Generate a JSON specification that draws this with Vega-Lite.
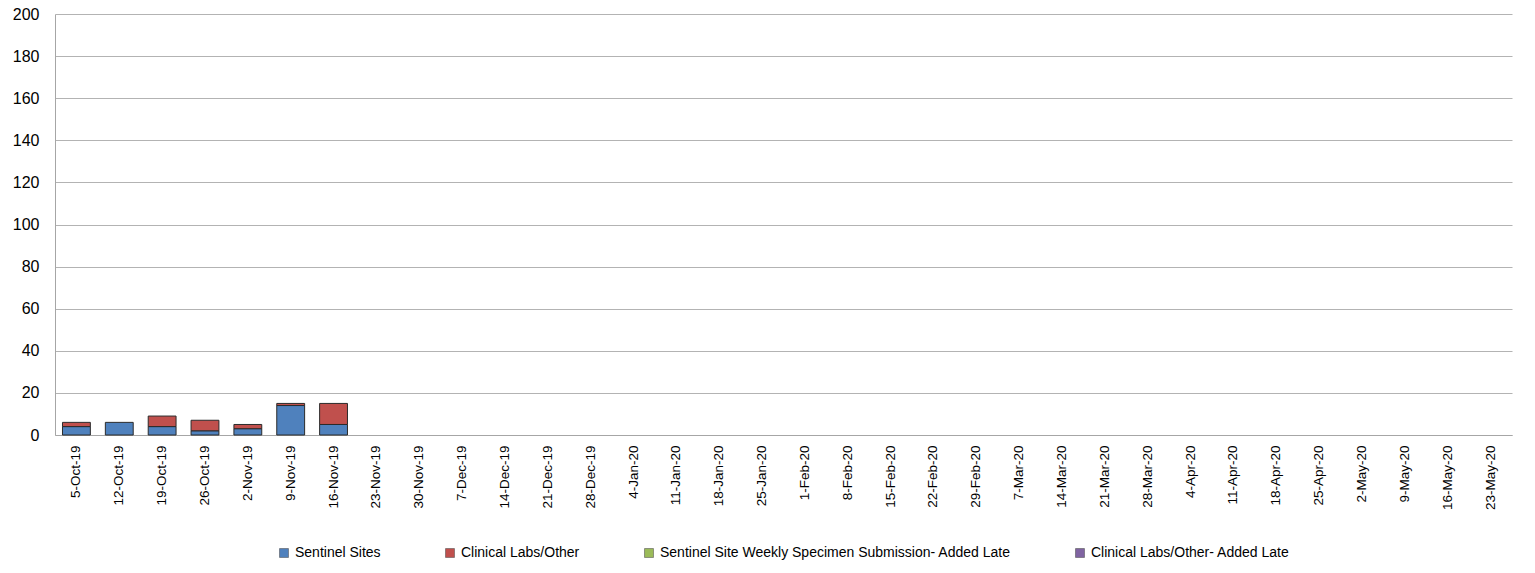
{
  "$schema": "https://vega.github.io/schema/vega-lite/v6.json",
  "width": 1457,
  "height": 421,
  "autosize": {"type": "none"},
  "padding": {"left": 55, "top": 14, "right": 23, "bottom": 138},
  "background": "white",
  "data": {
    "values": [
      {"week": "5-Oct-19", "series": "Sentinel Sites", "k": 1, "count": 4},
      {"week": "5-Oct-19", "series": "Clinical Labs/Other", "k": 2, "count": 2},
      {"week": "12-Oct-19", "series": "Sentinel Sites", "k": 1, "count": 6},
      {"week": "19-Oct-19", "series": "Sentinel Sites", "k": 1, "count": 4},
      {"week": "19-Oct-19", "series": "Clinical Labs/Other", "k": 2, "count": 5},
      {"week": "26-Oct-19", "series": "Sentinel Sites", "k": 1, "count": 2},
      {"week": "26-Oct-19", "series": "Clinical Labs/Other", "k": 2, "count": 5},
      {"week": "2-Nov-19", "series": "Sentinel Sites", "k": 1, "count": 3},
      {"week": "2-Nov-19", "series": "Clinical Labs/Other", "k": 2, "count": 2},
      {"week": "9-Nov-19", "series": "Sentinel Sites", "k": 1, "count": 14},
      {"week": "9-Nov-19", "series": "Clinical Labs/Other", "k": 2, "count": 1},
      {"week": "16-Nov-19", "series": "Sentinel Sites", "k": 1, "count": 5},
      {"week": "16-Nov-19", "series": "Clinical Labs/Other", "k": 2, "count": 10}
    ]
  },
  "mark": {"type": "bar", "stroke": "#2b2b2b", "strokeWidth": 1},
  "encoding": {
    "x": {
      "field": "week",
      "type": "ordinal",
      "sort": null,
      "scale": {
        "domain": ["5-Oct-19","12-Oct-19","19-Oct-19","26-Oct-19","2-Nov-19","9-Nov-19","16-Nov-19","23-Nov-19","30-Nov-19","7-Dec-19","14-Dec-19","21-Dec-19","28-Dec-19","4-Jan-20","11-Jan-20","18-Jan-20","25-Jan-20","1-Feb-20","8-Feb-20","15-Feb-20","22-Feb-20","29-Feb-20","7-Mar-20","14-Mar-20","21-Mar-20","28-Mar-20","4-Apr-20","11-Apr-20","18-Apr-20","25-Apr-20","2-May-20","9-May-20","16-May-20","23-May-20"],
        "paddingInner": 0.35,
        "paddingOuter": 0.175
      },
      "axis": {
        "title": null,
        "labelAngle": 270,
        "labelFont": "Liberation Sans",
        "labelFontSize": 13.5,
        "labelColor": "#000000",
        "labelPadding": 10,
        "ticks": false,
        "domainColor": "#a6a6a6",
        "grid": false
      }
    },
    "y": {
      "field": "count",
      "type": "quantitative",
      "stack": "zero",
      "scale": {"domain": [0, 200]},
      "axis": {
        "title": null,
        "values": [0,20,40,60,80,100,120,140,160,180,200],
        "labelFont": "Liberation Sans",
        "labelFontSize": 16,
        "labelColor": "#000000",
        "labelPadding": 16,
        "ticks": false,
        "domainColor": "#a6a6a6",
        "gridColor": "#b3b3b3",
        "gridWidth": 1
      }
    },
    "color": {
      "field": "series",
      "type": "nominal",
      "scale": {
        "domain": ["Sentinel Sites", "Clinical Labs/Other", "Sentinel Site Weekly Specimen Submission- Added Late", "Clinical Labs/Other- Added Late"],
        "range": ["#4f81bd", "#c0504d", "#9bbb59", "#8064a2"]
      },
      "legend": {
        "title": null,
        "orient": "bottom",
        "direction": "horizontal",
        "columns": 4,
        "symbolType": "square",
        "symbolSize": 80,
        "symbolStrokeColor": "#404040",
        "symbolStrokeWidth": 0.5,
        "labelFont": "Liberation Sans",
        "labelFontSize": 14,
        "labelLimit": 0,
        "labelColor": "#000000",
        "columnPadding": 62,
        "offset": 36
      }
    },
    "order": {"field": "k", "type": "quantitative"}
  },
  "config": {
    "view": {"stroke": null},
    "legend": {"layout": {"bottom": {"anchor": "middle"}}}
  }
}
